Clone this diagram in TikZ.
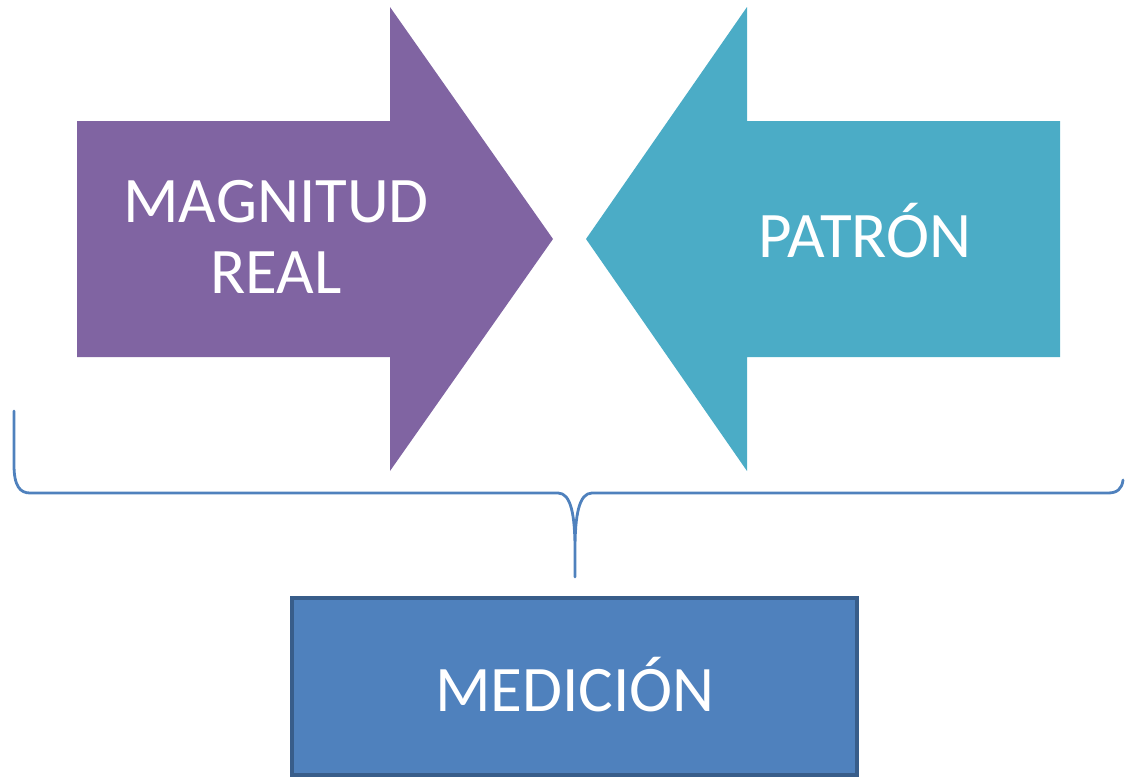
\documentclass[tikz,border=0pt]{standalone}
\usepackage{fontspec}
\setmainfont{Carlito}
\definecolor{purp}{HTML}{8064A2}
\definecolor{teal2}{HTML}{4BACC6}
\definecolor{boxfill}{HTML}{4F81BD}
\definecolor{boxline}{HTML}{385D8A}
\definecolor{bracecol}{HTML}{4F81BD}
\tikzset{
  lbl/.style={text=white, font=\fontsize{65}{71}\selectfont, align=center, inner sep=0pt},
  bracestyle/.style={draw=bracecol, line width=2.8pt, line join=round, line cap=round},
  resultbox/.style={draw=boxline, fill=boxfill, line width=3.5pt}
}
\begin{document}
\begin{tikzpicture}[x=1pt,y=-1pt]
\useasboundingbox (0,0) rectangle (1125,779);
% purple arrow
\fill[purp] (77,121) -- (390,121) -- (390,7) -- (553,239) -- (390,471) -- (390,357) -- (77,357) -- cycle;
% teal arrow
\fill[teal2] (1060,121) -- (747,121) -- (747,7) -- (586,239) -- (747,471) -- (747,357) -- (1060,357) -- cycle;
\node[lbl] (mag) at (276,237) {MAGNITUD\\REAL};
\node[lbl, anchor=base] (pat) at (865,257) {PATRÓN};
% brace
\coordinate (bl) at (14,411);
\coordinate (br) at (1123,480);
\coordinate (tip) at (575,577);
\draw[bracestyle] (bl) -- (14,465) .. controls (14,486) and (20,493) .. (30,493)
  -- (558,493) .. controls (571,493) and (575,515) .. (575,550) -- (tip)
  (575,550) .. controls (575,515) and (579,493) .. (592,493)
  -- (1108,493) .. controls (1117,493) and (1122,489) .. (br);
% result box
\draw[resultbox] (292,598) rectangle (857,775);
\node[lbl, anchor=base] (med) at (575,711) {MEDICIÓN};
\end{tikzpicture}
\end{document}
